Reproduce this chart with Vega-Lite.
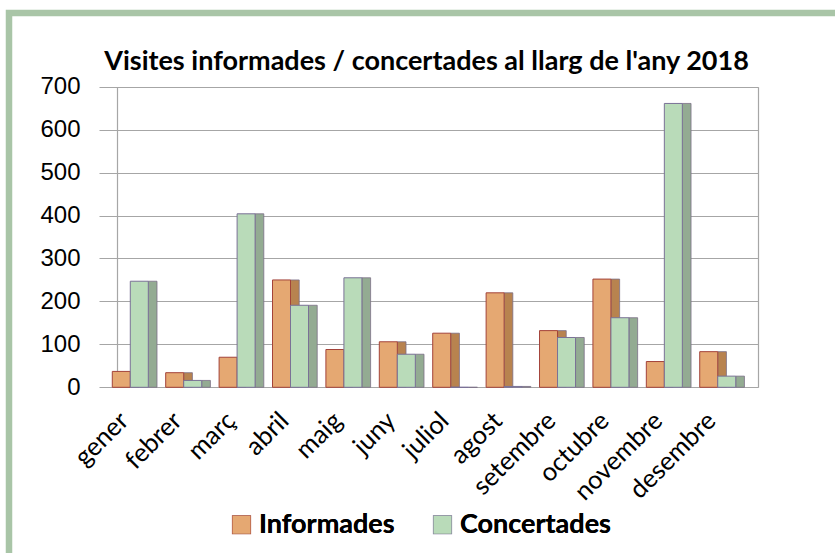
{
  "$schema": "https://vega.github.io/schema/vega-lite/v6.json",
  "autosize": "none",
  "width": 835,
  "height": 545,
  "padding": {"left": 9, "top": 13, "right": 0, "bottom": 0},
  "background": "white",
  "title": {
    "text": "Visites informades / concertades al llarg de l'any 2018",
    "font": "Lato",
    "fontWeight": "bold",
    "fontSize": 27,
    "color": "black",
    "anchor": "middle",
    "frame": "group",
    "baseline": "alphabetic",
    "offset": -84
  },
  "data": {
    "values": [
      {"mes": "gener", "serie": "Informades", "visites": 37},
      {"mes": "gener", "serie": "Concertades", "visites": 247},
      {"mes": "febrer", "serie": "Informades", "visites": 34},
      {"mes": "febrer", "serie": "Concertades", "visites": 16},
      {"mes": "març", "serie": "Informades", "visites": 70},
      {"mes": "març", "serie": "Concertades", "visites": 404},
      {"mes": "abril", "serie": "Informades", "visites": 250},
      {"mes": "abril", "serie": "Concertades", "visites": 191},
      {"mes": "maig", "serie": "Informades", "visites": 88},
      {"mes": "maig", "serie": "Concertades", "visites": 255},
      {"mes": "juny", "serie": "Informades", "visites": 106},
      {"mes": "juny", "serie": "Concertades", "visites": 77},
      {"mes": "juliol", "serie": "Informades", "visites": 126},
      {"mes": "juliol", "serie": "Concertades", "visites": 0},
      {"mes": "agost", "serie": "Informades", "visites": 220},
      {"mes": "agost", "serie": "Concertades", "visites": 2},
      {"mes": "setembre", "serie": "Informades", "visites": 132},
      {"mes": "setembre", "serie": "Concertades", "visites": 116},
      {"mes": "octubre", "serie": "Informades", "visites": 252},
      {"mes": "octubre", "serie": "Concertades", "visites": 162},
      {"mes": "novembre", "serie": "Informades", "visites": 60},
      {"mes": "novembre", "serie": "Concertades", "visites": 661},
      {"mes": "desembre", "serie": "Informades", "visites": 83},
      {"mes": "desembre", "serie": "Concertades", "visites": 26}
    ]
  },
  "layer": [
    {
      "mark": {"type": "bar", "stroke": "#7b6e86", "strokeWidth": 0.8},
      "encoding": {
        "x": {
          "field": "mes", "type": "nominal", "sort": null,
          "scale": {"range": [90, 749], "paddingInner": 0, "paddingOuter": 0.17, "align": 0.253},
          "axis": {
            "orient": "bottom", "offset": -170.7, "title": null,
            "domain": false, "ticks": false, "grid": false,
            "labelAngle": -45, "labelAlign": "right", "labelBaseline": "middle",
            "labelPadding": 29, "labelOffset": -6, "labelFont": "Lato", "labelFontSize": 25.5,
            "labelColor": "black", "labelOverlap": false
          }
        },
        "xOffset": {
          "field": "serie", "type": "nominal",
          "sort": ["Informades", "Concertades"],
          "scale": {"paddingInner": 0.517, "paddingOuter": 0.742, "align": 1}
        },
        "y": {
          "field": "visites", "type": "quantitative",
          "scale": {"domain": [0, 700], "range": [374.3, 73.7], "nice": false},
          "axis": {
            "orient": "left", "offset": -108, "title": null,
            "values": [0, 100, 200, 300, 400, 500, 600, 700],
            "domain": true, "domainColor": "#a6a6a6", "domainWidth": 1.2,
            "ticks": false, "grid": true, "gridColor": "#a6a6a6", "gridWidth": 1.2,
            "labelPadding": 37, "labelFont": "Liberation Sans", "labelFontSize": 24,
            "labelColor": "black"
          }
        },
        "color": {
          "field": "serie", "type": "nominal",
          "sort": ["Informades", "Concertades"],
          "scale": {"domain": ["Informades", "Concertades"], "range": ["#b8834f", "#93ab92"]},
          "legend": null
        }
      }
    },
    {
      "mark": {"type": "bar", "strokeWidth": 1},
      "encoding": {
        "x": {
          "field": "mes", "type": "nominal", "sort": null
        },
        "xOffset": {
          "field": "serie", "type": "nominal",
          "sort": ["Informades", "Concertades"],
          "scale": {"paddingInner": 0, "paddingOuter": 0.483}
        },
        "y": {
          "field": "visites", "type": "quantitative",
          "axis": {
            "orient": "right", "offset": -86, "title": null,
            "domain": true, "domainColor": "#a6a6a6", "domainWidth": 1.2,
            "ticks": false, "labels": false, "grid": false
          }
        },
        "color": {
          "field": "serie", "type": "nominal",
          "sort": ["Informades", "Concertades"],
          "scale": {"domain": ["Informades", "Concertades"], "range": ["#e5a872", "#b9dbb9"]},
          "legend": {
            "orient": "none", "legendX": 219, "legendY": 498,
            "direction": "horizontal", "title": null,
            "symbolType": "square", "symbolSize": 324, "symbolStrokeWidth": 1.2,
            "labelFont": "Lato", "labelFontWeight": "bold", "labelFontSize": 27,
            "labelColor": "black", "labelOffset": 4, "columnPadding": 34, "padding": 0
          }
        },
        "stroke": {
          "field": "serie", "type": "nominal",
          "sort": ["Informades", "Concertades"],
          "scale": {"domain": ["Informades", "Concertades"], "range": ["#a3433a", "#7a7196"]},
          "legend": {
            "orient": "none", "legendX": 219, "legendY": 498,
            "direction": "horizontal", "title": null,
            "symbolType": "square", "symbolSize": 324, "symbolStrokeWidth": 1.2,
            "labelFont": "Lato", "labelFontWeight": "bold", "labelFontSize": 27,
            "labelColor": "black", "labelOffset": 4, "columnPadding": 34, "padding": 0
          }
        }
      }
    }
  ],
  "resolve": {"scale": {"color": "independent", "xOffset": "independent"}, "axis": {"y": "independent"}},
  "config": {
    "view": {"stroke": "#a9c5a7", "strokeWidth": 6.5, "fill": "white"}
  }
}
